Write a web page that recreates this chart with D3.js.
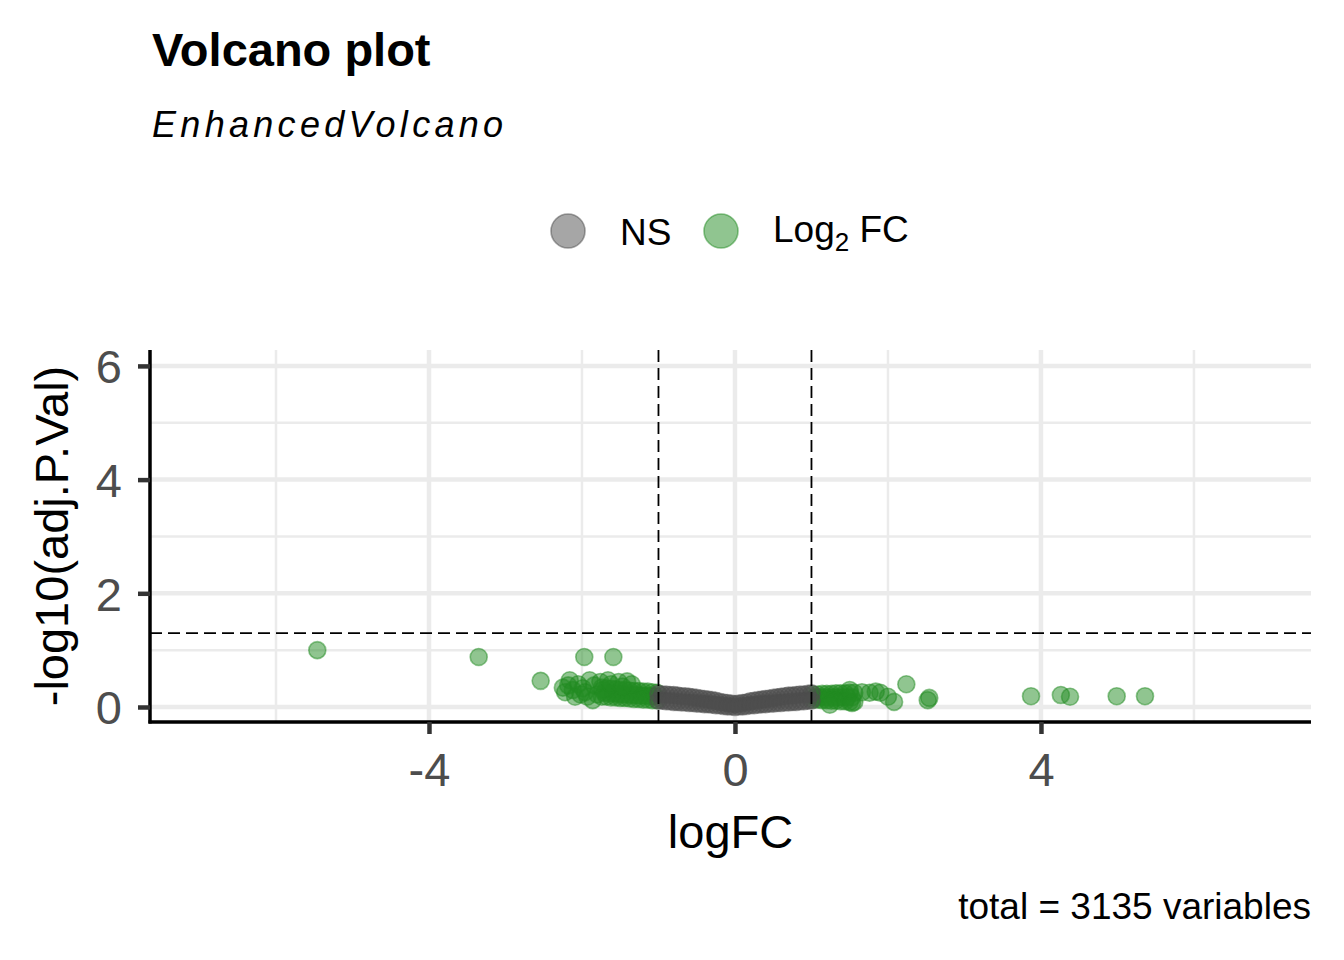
<!DOCTYPE html>
<html>
<head>
<meta charset="utf-8">
<script src="https://cdn.jsdelivr.net/npm/d3@7"></script>
<style>
  body { margin: 0; background: #fff; }
  text { font-family: "Liberation Sans", Arial, sans-serif; }
</style>
</head>
<body>
<svg id="chart" width="1344" height="960"></svg>
<script>
// x ticks and y ticks
const xTicks = [-4, 0, 4];
const xMinor = [-6, -2, 2, 6];
const yTicks = [0, 2, 4, 6];
const yMinor = [1, 3, 5];

// cutoffs
const fcCut = [-1, 1];
const pCut = 1.301;

// NS points (|logFC| < 1), upper and lower rows of the dense band
const nsLogFC = [-1.00, -0.95, -0.90, -0.85, -0.80, -0.75, -0.70, -0.65, -0.60, -0.55, -0.50,
                 -0.45, -0.40, -0.35, -0.30, -0.25, -0.20, -0.15, -0.10, -0.05, 0.00,
                 0.05, 0.10, 0.15, 0.20, 0.25, 0.30, 0.35, 0.40, 0.45, 0.50,
                 0.55, 0.60, 0.65, 0.70, 0.75, 0.80, 0.85, 0.90, 0.95, 1.00];
const nsHigh = [0.23, 0.22, 0.22, 0.21, 0.21, 0.20, 0.19, 0.19, 0.18, 0.17, 0.16,
                0.15, 0.14, 0.13, 0.12, 0.11, 0.09, 0.08, 0.07, 0.06, 0.05,
                0.06, 0.07, 0.08, 0.10, 0.11, 0.12, 0.13, 0.14, 0.15, 0.16,
                0.17, 0.18, 0.19, 0.20, 0.20, 0.21, 0.22, 0.22, 0.23, 0.24];
const nsLow = [0.11, 0.11, 0.10, 0.10, 0.09, 0.09, 0.08, 0.08, 0.07, 0.07, 0.06,
               0.06, 0.05, 0.05, 0.04, 0.03, 0.03, 0.02, 0.01, 0.01, 0.00,
               0.01, 0.01, 0.02, 0.03, 0.03, 0.04, 0.05, 0.05, 0.06, 0.06,
               0.07, 0.07, 0.08, 0.08, 0.09, 0.09, 0.10, 0.10, 0.11, 0.11];

// Log2 FC points (|logFC| > 1)
const fcLogFC = [-1.02, -1.08, -1.14, -1.20, -1.26, -1.32, -1.38, -1.44, -1.50, -1.56, -1.62, -1.68, -1.74,
                 -1.05, -1.11, -1.17, -1.23, -1.29, -1.35, -1.41, -1.47, -1.53, -1.59, -1.65, -1.71,
                 -1.02, -1.08, -1.14, -1.20, -1.26, -1.32, -1.38, -1.44, -1.50, -1.56, -1.62, -1.68, -1.74,
                 -2.16, -1.90, -1.66, -1.41, -2.22, -2.09, -1.93, -1.86, -1.99, -1.73, -2.05, -1.80, -2.18,
                 -2.12, -2.02, -1.84, -1.76, -1.52, -1.35, -2.25, -1.96, -1.62, -1.47,
                 -5.46, -3.35, -2.54, -1.97, -1.59,
                 1.02, 1.08, 1.14, 1.20, 1.26, 1.32, 1.38, 1.44, 1.50, 1.56,
                 1.05, 1.11, 1.17, 1.23, 1.29, 1.35, 1.41, 1.47, 1.53,
                 1.02, 1.08, 1.14, 1.20, 1.26, 1.32, 1.38, 1.44, 1.50, 1.56,
                 1.24, 1.53, 1.50, 1.66, 1.76, 1.84, 1.90, 2.00, 2.08, 2.24, 2.54, 2.52,
                 3.87, 4.26, 4.38, 4.99, 5.36];
const fcP = [0.25, 0.26, 0.27, 0.27, 0.28, 0.28, 0.29, 0.30, 0.30, 0.31, 0.32, 0.33, 0.34,
             0.19, 0.19, 0.20, 0.20, 0.21, 0.21, 0.22, 0.22, 0.23, 0.24, 0.24, 0.25,
             0.12, 0.12, 0.13, 0.13, 0.14, 0.14, 0.15, 0.16, 0.16, 0.17, 0.17, 0.18, 0.18,
             0.47, 0.47, 0.47, 0.45, 0.26, 0.18, 0.18, 0.12, 0.33, 0.30, 0.40, 0.22, 0.38,
             0.30, 0.22, 0.38, 0.44, 0.44, 0.40, 0.34, 0.26, 0.40, 0.36,
             1.00, 0.88, 0.46, 0.88, 0.88,
             0.22, 0.22, 0.23, 0.23, 0.23, 0.24, 0.24, 0.24, 0.25, 0.25,
             0.17, 0.17, 0.17, 0.17, 0.17, 0.17, 0.17, 0.17, 0.17,
             0.13, 0.13, 0.12, 0.12, 0.11, 0.11, 0.10, 0.10, 0.09, 0.09,
             0.04, 0.07, 0.30, 0.26, 0.25, 0.27, 0.25, 0.18, 0.09, 0.40, 0.16, 0.12,
             0.19, 0.21, 0.18, 0.19, 0.19];

const svg = d3.select("#chart");
svg.append("rect").attr("width", 1344).attr("height", 960).attr("fill", "#fff");

const pLeft = 150, pRight = 1311, pTop = 350, pBottom = 722;

const x = d3.scaleLinear().domain([-7.647, 7.53]).range([pLeft, pRight]);
const y = d3.scaleLinear().domain([-0.264, 6.28]).range([pBottom, pTop]);

const grid = svg.append("g");
// minor grid
grid.selectAll(".xminor").data(xMinor).enter().append("line")
    .attr("x1", d => x(d)).attr("x2", d => x(d)).attr("y1", pTop).attr("y2", pBottom)
    .attr("stroke", "#ebebeb").attr("stroke-width", 2.5);
grid.selectAll(".yminor").data(yMinor).enter().append("line")
    .attr("x1", pLeft).attr("x2", pRight).attr("y1", d => y(d)).attr("y2", d => y(d))
    .attr("stroke", "#ebebeb").attr("stroke-width", 2.5);
// major grid
grid.selectAll(".xmajor").data(xTicks).enter().append("line")
    .attr("x1", d => x(d)).attr("x2", d => x(d)).attr("y1", pTop).attr("y2", pBottom)
    .attr("stroke", "#ebebeb").attr("stroke-width", 4.5);
grid.selectAll(".ymajor").data(yTicks).enter().append("line")
    .attr("x1", pLeft).attr("x2", pRight).attr("y1", d => y(d)).attr("y2", d => y(d))
    .attr("stroke", "#ebebeb").attr("stroke-width", 4.5);

// points
const fcCol = "rgb(34,139,34)", nsCol = "rgb(77,77,77)";
function dot(sel, col, r) {
    sel.attr("r", r)
        .attr("fill", col).attr("fill-opacity", 0.5)
        .attr("stroke", col).attr("stroke-opacity", 0.5).attr("stroke-width", 1.6);
}

const fcData = fcLogFC.map((d, i) => ({ fc: d, p: fcP[i] }));
svg.append("g").selectAll("circle").data(fcData).enter().append("circle")
    .attr("cx", d => x(d.fc)).attr("cy", d => y(d.p))
    .call(dot, fcCol, 8.5);

const nsData = nsLogFC.map((d, i) => ({ fc: d, p: nsHigh[i] }))
    .concat(nsLogFC.map((d, i) => ({ fc: d, p: nsLow[i] })));
svg.append("g").selectAll("circle").data(nsData).enter().append("circle")
    .attr("cx", d => x(d.fc)).attr("cy", d => y(d.p))
    .call(dot, nsCol, 8.5);

// cutoff lines
svg.selectAll(".vcut").data(fcCut).enter().append("line")
    .attr("x1", d => x(d)).attr("x2", d => x(d)).attr("y1", pTop).attr("y2", pBottom)
    .attr("stroke", "#000").attr("stroke-width", 1.8).attr("stroke-dasharray", "12,6");
svg.append("line")
    .attr("x1", pLeft).attr("x2", pRight).attr("y1", y(pCut)).attr("y2", y(pCut))
    .attr("stroke", "#000").attr("stroke-width", 1.8).attr("stroke-dasharray", "12,6");

// axes
const xAxis = svg.append("g").attr("transform", "translate(0," + pBottom + ")")
    .call(d3.axisBottom(x).tickValues(xTicks).tickSize(12).tickSizeOuter(0).tickFormat(d => d < 0 ? "-" + Math.abs(d) : d));
const yAxis = svg.append("g").attr("transform", "translate(" + pLeft + ",0)")
    .call(d3.axisLeft(y).tickValues(yTicks).tickSize(12).tickSizeOuter(0).tickFormat(d3.format("d")));
[xAxis, yAxis].forEach(a => {
    a.select(".domain").attr("stroke", "#000").attr("stroke-width", 3.5);
    a.selectAll(".tick line").attr("stroke", "#333").attr("stroke-width", 4.5);
    a.selectAll(".tick text").attr("fill", "#4d4d4d").attr("font-size", 47)
        .attr("font-family", "Liberation Sans, Arial, sans-serif");
});
xAxis.select(".domain").attr("d", "M" + (pLeft - 1.5) + ",0H" + pRight);
yAxis.select(".domain").attr("d", "M0," + pTop + "V" + (pBottom + 1.5));
xAxis.selectAll(".tick text").attr("y", 64).attr("dy", null).attr("dominant-baseline", "auto");
yAxis.selectAll(".tick text").attr("x", -28).attr("dy", "0.36em");

// axis titles
svg.append("text").attr("x", (pLeft + pRight) / 2).attr("y", 848)
    .attr("text-anchor", "middle").attr("font-size", 47).text("logFC");
svg.append("text").attr("transform", "translate(68," + ((pTop + pBottom) / 2) + ") rotate(-90)")
    .attr("text-anchor", "middle").attr("font-size", 47).text("-log10(adj.P.Val)");

// title and subtitle
svg.append("text").attr("x", 152).attr("y", 66)
    .attr("font-size", 47).attr("font-weight", "bold").text("Volcano plot");
svg.append("text").attr("x", 152).attr("y", 137)
    .attr("font-size", 36).attr("font-style", "italic").attr("letter-spacing", 4.3).text("EnhancedVolcano");

// legend
const legend = svg.append("g");
legend.append("circle").attr("cx", 568).attr("cy", 231).call(dot, nsCol, 17);
legend.append("text").attr("x", 620).attr("y", 245).attr("font-size", 37).text("NS");
legend.append("circle").attr("cx", 721).attr("cy", 231).call(dot, fcCol, 17);
const lt = legend.append("text").attr("x", 773).attr("y", 242).attr("font-size", 37);
lt.append("tspan").text("Log");
lt.append("tspan").attr("font-size", 26).attr("dy", 9).text("2");
lt.append("tspan").attr("dy", -9).text(" FC");

// caption
svg.append("text").attr("x", 1311).attr("y", 919).attr("text-anchor", "end")
    .attr("font-size", 37).text("total = 3135 variables");
</script>
</body>
</html>
